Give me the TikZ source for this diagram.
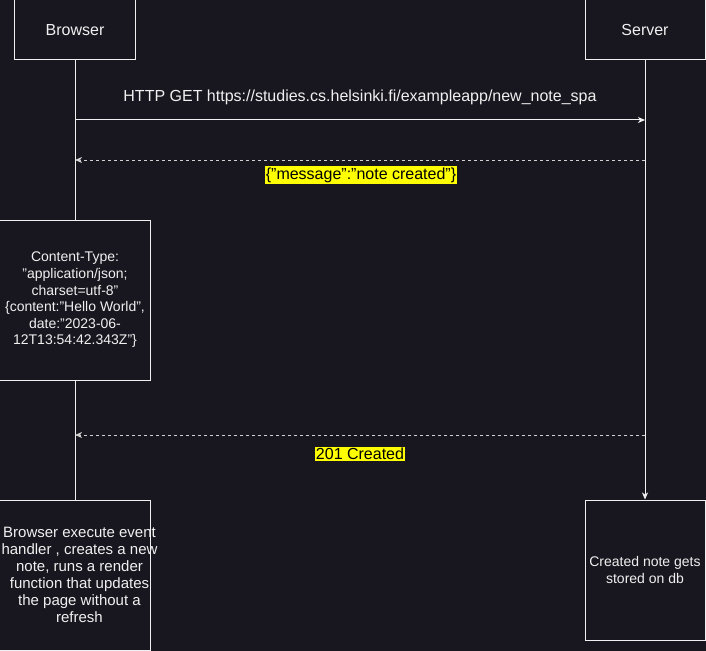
\documentclass[tikz,border=0pt]{standalone}
\usepackage{fontspec}
\setmainfont{Liberation Sans}
\usetikzlibrary{arrows.meta}
\definecolor{bg}{HTML}{18171F}
\definecolor{ink}{HTML}{F0F0F0}
\definecolor{dashink}{HTML}{D0D0D0}
\definecolor{hl}{HTML}{FFFF00}
\tikzset{
  actor/.style={draw=ink, line width=1bp, fill=bg, text=ink, minimum width=120bp,
    minimum height=60bp, inner sep=0pt, font=\fontsize{16bp}{19bp}\selectfont},
  note/.style={draw=ink, line width=1bp, fill=bg, text=ink, inner sep=0pt,
    align=center, font=\fontsize{14bp}{16.6bp}\selectfont},
  notetext/.style={text=ink, inner sep=0pt, align=center},
  lifeline/.style={draw=ink, line width=1bp},
  call/.style={draw=ink, line width=1bp, -{Stealth[length=7bp,width=6bp,inset=2bp]}},
  reply/.style={draw=dashink, line width=1bp, dash pattern=on 3bp off 3bp,
    -{Stealth[length=7bp,width=6bp,inset=2bp]}},
  msglabel/.style={text=ink, inner sep=0pt, font=\fontsize{16bp}{19bp}\selectfont},
  marked/.style={fill=hl, text=black, inner xsep=0.5bp, inner ysep=1.5bp,
    font=\fontsize{16bp}{19bp}\selectfont},
}
\begin{document}
\begin{tikzpicture}[x=1bp,y=-1bp]
  \fill[bg] (0,0) rectangle (706,651);
  \useasboundingbox (0,0) rectangle (706,651);

  % participants
  \node[actor] (browser) at (75,30) {Browser};
  \node[actor] (server) at (645,30) {Server};

  % activity boxes
  \node[note, minimum width=150bp, minimum height=160bp] (content) at (75,300)
    {Content-Type:\\ "application/json;\\ charset=utf-8"\\
     \{content:"Hello World",\\ date:"2023-06-\\ 12T13:54:42.343Z"\}};
  \node[note, minimum width=150bp, minimum height=150bp] (handler) at (75,575) {};
  \node[notetext, font=\fontsize{15bp}{16.9bp}\selectfont] (handlertext) at (79.5,575)
    {Browser execute event\\ handler , creates a new\\ note, runs a render\\
     function that updates\\ the page without a\\ refresh};
  \node[note, minimum width=120bp, minimum height=140bp,
        font=\fontsize{14bp}{17.2bp}\selectfont] (stored) at (645,570)
    {Created note gets\\ stored on db};

  % lifelines
  \draw[lifeline] (browser.south) -- (content.north);
  \draw[lifeline] (content.south) -- (handler.north);
  \draw[call] (server.south) -- (stored.north);

  % message anchors on the lifelines
  \coordinate (b1) at (75,120);  \coordinate (s1) at (645,120);
  \coordinate (b2) at (75,160);  \coordinate (s2) at (645,160);
  \coordinate (b3) at (75,435);  \coordinate (s3) at (645,435);

  % messages
  \draw[call] (b1) -- (s1);
  \node[msglabel] (getlbl) at (360,97) {HTTP GET https://studies.cs.helsinki.fi/exampleapp/new\_note\_spa};

  \draw[reply] (s2) -- (b2);
  \node[marked] (msglbl) at (361,175) {\{"message":"note created"\}};

  \draw[reply] (s3) -- (b3);
  \node[marked] (createdlbl) at (360,454) {201 Created};
\end{tikzpicture}
\end{document}
